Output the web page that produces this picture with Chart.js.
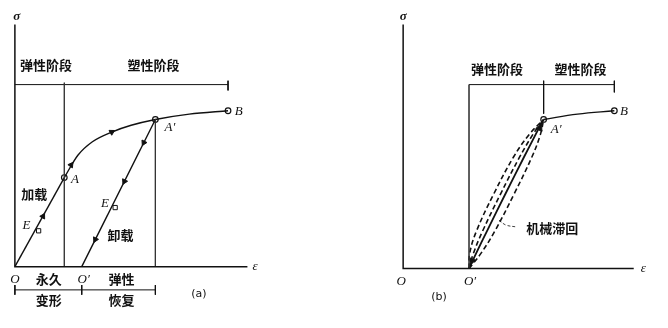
<!DOCTYPE html>
<html>
<head>
<meta charset="utf-8">
<script src="https://cdn.jsdelivr.net/npm/chart.js@4.4.1/dist/chart.umd.min.js"></script>
<style>
  body { margin: 0; background: #fff; width: 668px; height: 328px; position: relative; overflow: hidden; }
  canvas { position: absolute; top: 0; }
  #chartA { left: 0; }
  #chartB { left: 334px; }
</style>
</head>
<body>
<canvas id="chartA" width="334" height="328"></canvas>
<canvas id="chartB" width="334" height="328"></canvas>
<script>
// ---- values (strain eps, stress sigma, arbitrary units) ----
// panel (a)
const loadLinear = [[0, 0], [0.51, 0.92]];                       // O -> A
const loadCurve = [[0.51, 0.92], [0.65, 1.15], [0.80, 1.29], [1.0, 1.39],
                   [1.2, 1.46], [1.45, 1.52], [1.8, 1.575], [2.2, 1.61]]; // A -> A' -> B
const unloadLine = [[1.45, 1.52], [0.69, 0]];                    // A' -> O'
const keyPointsA = [[0.51, 0.92], [1.45, 1.52], [2.2, 1.61]];   // A, A', B
const slopeMarksA = [[0.245, 0.37], [1.035, 0.61]];              // E, E'
const arrowsA = [
  { x: 0.29, y: 0.52, dx: 1, dy: 1.8 },
  { x: 0.58, y: 1.05, dx: 1, dy: 1.4 },
  { x: 1.0, y: 1.39, dx: 1, dy: 0.55 },
  { x: 1.33, y: 1.28, dx: -1, dy: -2 },
  { x: 1.13, y: 0.88, dx: -1, dy: -2 },
  { x: 0.83, y: 0.28, dx: -1, dy: -2 }
];
const elasticLimitA = 0.51;
const permanentSetA = 0.69;
const reloadPointA = 1.45;

// panel (b)
const plasticB = [[1.45, 1.54], [1.8, 1.595], [2.18, 1.63]];     // A' -> B
const loopDashOuter = [[0.68, 0], [0.686, 0.154], [0.756, 0.385], [0.935, 0.77], [1.141, 1.155], [1.302, 1.386], [1.45, 1.54]];
const loopDashInner = [[0.68, 0], [0.724, 0.154], [0.819, 0.385], [1.005, 0.77], [1.204, 1.155], [1.340, 1.386], [1.45, 1.54]];
const loopSolid = [[0.68, 0], [0.752, 0.154], [0.864, 0.385], [1.055, 0.77], [1.249, 1.155], [1.368, 1.386], [1.45, 1.54]];
const loopDashRight = [[0.68, 0], [0.801, 0.154], [0.945, 0.385], [1.145, 0.77], [1.330, 1.155], [1.417, 1.386], [1.45, 1.54]];
const keyPointsB = [[1.45, 1.54], [2.18, 1.63]];                 // A', B
const arrowsB = [
  { x: 1.41, y: 1.45, dx: 1, dy: 2 },
  { x: 0.71, y: 0.08, dx: -1, dy: -2.5 }
];
const leaderB = [[0.99, 0.50], [1.06, 0.45], [1.17, 0.43]];

// ---- helpers ----
const ink = '#111';
const pts = arr => arr.map(p => ({ x: p[0], y: p[1] }));
function line(arr, opt) {
  return Object.assign({
    data: pts(arr), showLine: true, pointRadius: 0, borderColor: ink,
    borderWidth: 1.4, tension: 0, fill: false
  }, opt || {});
}

const cjk = 'bold 13px "Noto Sans CJK SC", sans-serif';
const ital = 'italic 13px "Liberation Serif", "DejaVu Serif", serif';

// text annotations drawn at data coordinates
const labelPlugin = {
  id: 'labels',
  afterDatasetsDraw(chart, args, opts) {
    const { ctx, scales: { x, y } } = chart;
    ctx.save();
    ctx.fillStyle = ink;
    ctx.textBaseline = 'middle';
    (opts.items || []).forEach(it => {
      ctx.font = it.font;
      ctx.textAlign = it.align || 'center';
      ctx.fillText(it.text, x.getPixelForValue(it.at[0]), y.getPixelForValue(it.at[1]));
    });
    ctx.restore();
  }
};

function arrowSet(list, r) {
  return {
    data: list, showLine: false, pointStyle: 'triangle', pointRadius: r || 3.2,
    pointBackgroundColor: ink, pointBorderColor: ink, pointBorderWidth: 1,
    pointRotation: c => c.raw ? Math.atan2(c.raw.dx, c.raw.dy) * 180 / Math.PI : 0
  };
}
function circleSet(arr) {
  return {
    data: pts(arr), showLine: false, pointStyle: 'circle', pointRadius: 2.8,
    pointBackgroundColor: '#fff', pointBorderColor: ink, pointBorderWidth: 1.2
  };
}

function makeChart(id, xr, yr, datasets, items) {
  return new Chart(document.getElementById(id), {
    type: 'scatter',
    data: { datasets },
    options: {
      responsive: false,
      animation: false,
      devicePixelRatio: 1,
      layout: { padding: 0 },
      scales: {
        x: { type: 'linear', min: xr[0], max: xr[1], display: false },
        y: { type: 'linear', min: yr[0], max: yr[1], display: false }
      },
      plugins: { legend: { display: false }, tooltip: { enabled: false }, labels: { items } }
    },
    plugins: [labelPlugin]
  });
}

Chart.defaults.datasets.scatter.clip = false;

// ---- panel (a) ----
makeChart('chartA', [-0.10, 3.24], [-0.58, 2.70], [
  line([[0, 2.5], [0, 0], [2.4, 0]], { borderWidth: 1.5 }),
  line([[elasticLimitA, 1.9], [elasticLimitA, 0]], { borderWidth: 0.8, borderColor: '#333' }),
  line([[reloadPointA, 1.52], [reloadPointA, 0]], { borderWidth: 0.9, borderColor: '#333' }),
  line([[0, 1.88], [2.2, 1.88]], { borderWidth: 1 }),
  line([[2.2, 1.92], [2.2, 1.82]], { borderWidth: 1 }),
  line([[0, -0.24], [reloadPointA, -0.24]], { borderWidth: 1 }),
  line([[0, -0.19], [0, -0.29]], { borderWidth: 1 }),
  line([[permanentSetA, -0.19], [permanentSetA, -0.29]], { borderWidth: 1 }),
  line([[reloadPointA, -0.19], [reloadPointA, -0.29]], { borderWidth: 1 }),
  line(loadLinear),
  line(loadCurve, { tension: 0.4, cubicInterpolationMode: 'monotone' }),
  line(unloadLine),
  arrowSet(arrowsA),
  {
    data: pts(slopeMarksA), showLine: false, pointStyle: 'rect', pointRadius: 3,
    pointBackgroundColor: '#fff', pointBorderColor: ink, pointBorderWidth: 1
  },
  circleSet(keyPointsA)
], [
  { text: 'σ', at: [0.02, 2.58], font: 'bold italic 13px "Liberation Serif", serif' },
  { text: '弹性阶段', at: [0.32, 2.08], font: cjk },
  { text: '塑性阶段', at: [1.43, 2.08], font: cjk },
  { text: 'B', at: [2.31, 1.60], font: ital },
  { text: 'A′', at: [1.60, 1.44], font: ital },
  { text: 'A', at: [0.62, 0.90], font: ital },
  { text: '加载', at: [0.20, 0.75], font: cjk },
  { text: 'E', at: [0.12, 0.42], font: ital },
  { text: 'E', at: [0.93, 0.65], font: ital },
  { text: '卸载', at: [1.09, 0.33], font: cjk },
  { text: 'O', at: [0.0, -0.13], font: ital },
  { text: 'O′', at: [0.71, -0.13], font: ital },
  { text: '永久', at: [0.35, -0.125], font: cjk },
  { text: '变形', at: [0.35, -0.35], font: cjk },
  { text: '弹性', at: [1.10, -0.125], font: cjk },
  { text: '恢复', at: [1.10, -0.35], font: cjk },
  { text: '(a)', at: [1.90, -0.28], font: '11px "DejaVu Sans", sans-serif' },
  { text: 'ε', at: [2.48, 0.0], font: ital }
]);

// ---- panel (b) ----
const dash = { borderDash: [5, 3], borderWidth: 1.6, tension: 0.4 };
makeChart('chartB', [-0.66, 2.68], [-0.56, 2.72], [
  line([[0, 2.52], [0, 0], [2.38, 0]], { borderWidth: 1.5 }),
  line([[0.68, 1.9], [0.68, 0]], { borderWidth: 0.8, borderColor: '#333' }),
  line([[0.68, 1.90], [2.18, 1.90]], { borderWidth: 1 }),
  line([[1.45, 1.94], [1.45, 1.60]], { borderWidth: 1 }),
  line([[2.18, 1.94], [2.18, 1.82]], { borderWidth: 1 }),
  line(plasticB, { tension: 0.4 }),
  line(loopDashOuter, dash),
  line(loopDashInner, dash),
  line(loopDashRight, dash),
  line(loopSolid, { tension: 0.4, borderWidth: 1.8 }),
  line(leaderB, { tension: 0.4, borderWidth: 0.8, borderDash: [3, 2] }),
  arrowSet(arrowsB, 4),
  circleSet(keyPointsB)
], [
  { text: 'σ', at: [0.0, 2.60], font: 'bold italic 13px "Liberation Serif", serif' },
  { text: '弹性阶段', at: [0.97, 2.06], font: cjk },
  { text: '塑性阶段', at: [1.83, 2.06], font: cjk },
  { text: 'B', at: [2.28, 1.62], font: ital },
  { text: 'A′', at: [1.58, 1.44], font: ital },
  { text: '机械滞回', at: [1.27, 0.42], font: cjk, align: 'left' },
  { text: 'O', at: [-0.02, -0.13], font: ital },
  { text: 'O′', at: [0.69, -0.13], font: ital },
  { text: '(b)', at: [0.37, -0.30], font: '11px "DejaVu Sans", sans-serif' },
  { text: 'ε', at: [2.48, 0.0], font: ital }
]);
</script>
</body>
</html>
